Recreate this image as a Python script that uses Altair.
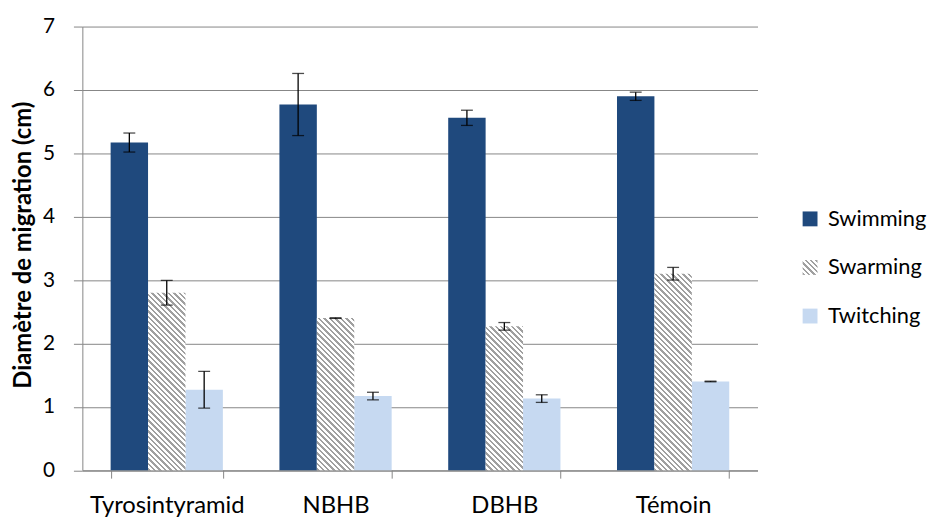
import altair as alt
import pandas as pd

categories = ["Tyrosintyramid", "NBHB", "DBHB", "Témoin"]
series = ["Swimming", "Swarming", "Twitching"]
swimming = [5.17, 5.77, 5.56, 5.90]
swimming_err = [0.15, 0.49, 0.12, 0.065]
swarming = [2.80, 2.40, 2.27, 3.10]
swarming_err = [0.195, 0.005, 0.06, 0.10]
twitching = [1.27, 1.17, 1.13, 1.40]
twitching_err = [0.29, 0.06, 0.06, 0.005]

rows = []
for vals, errs, s in [(swimming, swimming_err, "Swimming"),
                      (swarming, swarming_err, "Swarming"),
                      (twitching, twitching_err, "Twitching")]:
    for c, v, e in zip(categories, vals, errs):
        rows.append({"category": c, "series": s, "value": v, "lo": v - e, "hi": v + e})
df = pd.DataFrame(rows)

# hatch (diagonal stripes) built as a striped linear gradient
GRAY = "#a0a0a0"
N = 50
P = 5.5
L = N * P
F = 0.45
stops = []
for k in range(N):
    a = k / N
    b = (k + F) / N
    c = (k + 1) / N
    stops += [f"{{offset:{a:.5f},color:'{GRAY}'}}", f"{{offset:{b:.5f},color:'{GRAY}'}}",
              f"{{offset:{b:.5f},color:'#ffffff'}}", f"{{offset:{c:.5f},color:'#ffffff'}}"]
stops_str = "[" + ",".join(stops) + "]"

w = "bandwidth('xOffset')"
h = "(scale('y', 0) - scale('y', datum.value))"
den = "(" + w + "*" + w + "+" + h + "*" + h + ")"
bar_grad = ("{gradient:'linear',x1:0,y1:1,x2:" + str(L) + "*" + w + "/" + den +
            ",y2:1-" + str(L) + "*" + h + "/" + den + ",stops:" + stops_str + "}")
leg_grad = ("{gradient:'linear',x1:0,y1:1,x2:" + f"{L/30:.4f}" + ",y2:" + f"{1 - L/30:.4f}" +
            ",stops:" + stops_str + "}")

FONT = "Lato"
GRID = "#868686"

x_enc = alt.X("category:N", sort=categories,
              scale=alt.Scale(paddingInner=0.335, paddingOuter=0.1675),
              axis=alt.Axis(title=None, labelAngle=0, tickBand="extent", grid=False,
                            domainColor=GRID, tickColor=GRID, tickSize=8,
                            labelFont=FONT, labelFontSize=24, labelColor="black",
                            labelPadding=35, labelBaseline="alphabetic"))
xo_enc = alt.XOffset("series:N", sort=series, scale=alt.Scale(paddingInner=0, paddingOuter=0))
y_enc = alt.Y("value:Q", scale=alt.Scale(domain=[0, 7], nice=False),
              axis=alt.Axis(values=list(range(8)), format="d", grid=True, gridColor=GRID,
                            domainColor=GRID, tickColor=GRID, tickSize=9,
                            labelPadding=19, labelFont=FONT, labelFontSize=21,
                            labelColor="black",
                            title="Diamètre de migration (cm)", titleFont=FONT,
                            titleFontSize=24, titleFontWeight="bold", titleColor="black",
                            titleAngle=270, titleX=-52, titleY=220,
                            titleAlign="center", titleBaseline="alphabetic"))

base = alt.Chart(df)

bars = base.mark_bar().encode(
    x=x_enc, xOffset=xo_enc, y=y_enc,
    color=alt.Color("series:N",
                    scale=alt.Scale(domain=series,
                                    range=["#1F497D", alt.ExprRef(leg_grad), "#C6D9F1"]),
                    legend=alt.Legend(title=None, orient="none", legendX=723, legendY=183,
                                      symbolType="square", symbolSize=225,
                                      symbolStrokeWidth=0, labelFont=FONT,
                                      labelFontSize=22, labelColor="black",
                                      labelOffset=7, rowPadding=27, padding=0)),
).transform_filter("datum.series != 'Swarming'")

hatch = base.mark_bar().encode(
    x=x_enc, xOffset=xo_enc, y=y_enc,
    fill={"value": {"expr": bar_grad}},
).transform_filter("datum.series == 'Swarming'")

rules = base.mark_rule(color="black", strokeWidth=1.3).encode(
    x=x_enc, xOffset=xo_enc, y="lo:Q", y2="hi:Q")
cap_lo = base.mark_tick(color="black", thickness=1.3, size=12).encode(
    x=x_enc, xOffset=xo_enc, y="lo:Q")
cap_hi = base.mark_tick(color="black", thickness=1.3, size=12).encode(
    x=x_enc, xOffset=xo_enc, y="hi:Q")

chart = alt.layer(bars, hatch, rules, cap_lo, cap_hi).properties(
    width=681, height=447.5,
    autosize=alt.AutoSizeParams(type="none"),
    padding={"left": 75, "top": 16.5, "right": 177, "bottom": 48},
    background="white",
).configure_view(stroke=None)

chart.save("out.html", embed_options={"renderer": "svg", "actions": False})
